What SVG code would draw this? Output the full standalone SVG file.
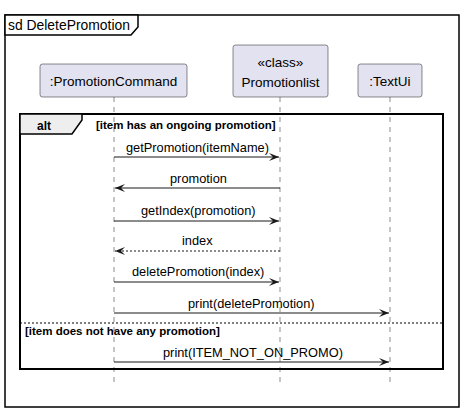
<svg xmlns="http://www.w3.org/2000/svg" width="464" height="411" viewBox="0 0 464 411">
<style>
text{font-family:"Liberation Sans",Arial,sans-serif;fill:#000}
.part{fill:#E2E2F0;stroke:#181818;stroke-width:0.5}
.pt{font-size:13.5px}
.msg{font-size:12.8px}
.life{stroke:#181818;stroke-width:0.5;stroke-dasharray:5,5}
.m{stroke:#181818;stroke-width:1;fill:none}
.guard{font-size:11.5px;font-weight:bold}
</style>
<defs>
<marker id="ah" markerWidth="12" markerHeight="10" viewBox="0 0 12 10" refX="11" refY="5" orient="auto" markerUnits="userSpaceOnUse">
<polygon points="1,1 11,5 1,9 5,5" fill="#181818"/>
</marker>
</defs>
<g id="frame">
<rect x="5" y="15" width="454" height="392" fill="none" stroke="#000" stroke-width="1.5"/>
<polygon points="5,15 138,15 138,27 131,35 5,35" fill="#FFFFFF" stroke="#000" stroke-width="1.5"/>
<text x="8" y="30" font-size="13.9">sd DeletePromotion</text>
</g>
<g id="lifelines">
<line class="life" x1="114" y1="97" x2="114" y2="386"/>
<line class="life" x1="280" y1="97" x2="280" y2="386"/>
<line class="life" x1="390" y1="97" x2="390" y2="386"/>
</g>
<g id="PromotionCommand">
<rect class="part" x="40" y="64" width="147" height="33" rx="2.5"/>
<text class="pt" x="113.5" y="86" text-anchor="middle">:PromotionCommand</text>
</g>
<g id="Promotionlist">
<rect class="part" x="233" y="45" width="95" height="52" rx="2.5"/>
<text class="pt" x="280.5" y="67" text-anchor="middle">«class»</text>
<text class="pt" x="280.5" y="87" text-anchor="middle">Promotionlist</text>
</g>
<g id="TextUi">
<rect class="part" x="358" y="64" width="64" height="33" rx="2.5"/>
<text class="pt" x="390" y="86" text-anchor="middle">:TextUi</text>
</g>
<g id="alt">
<rect x="20" y="114" width="423" height="255" fill="none" stroke="#000" stroke-width="2"/>
<polygon points="20,114 82,114 82,120 72,134 20,134" fill="#EEEEEE" stroke="#000" stroke-width="1.5"/>
<text x="37" y="130" font-size="12" font-weight="bold">alt</text>
<text class="guard" x="96" y="129">[item has an ongoing promotion]</text>
<line x1="20" y1="323" x2="443" y2="323" stroke="#000" stroke-width="1" stroke-dasharray="2,2"/>
<text class="guard" x="25" y="335">[item does not have any promotion]</text>
</g>
<g id="connectors">
<line class="m" x1="114" y1="157" x2="279" y2="157" marker-end="url(#ah)"/>
<text class="msg" x="126" y="152">getPromotion(itemName)</text>
<line class="m" x1="280" y1="188" x2="115" y2="188" marker-end="url(#ah)"/>
<text class="msg" x="170" y="183">promotion</text>
<line class="m" x1="114" y1="221" x2="279" y2="221" marker-end="url(#ah)"/>
<text class="msg" x="141" y="215">getIndex(promotion)</text>
<line class="m" x1="280" y1="251" x2="115" y2="251" stroke-dasharray="2,2" marker-end="url(#ah)"/>
<text class="msg" x="182" y="245">index</text>
<line class="m" x1="114" y1="282" x2="279" y2="282" marker-end="url(#ah)"/>
<text class="msg" x="132" y="276">deletePromotion(index)</text>
<line class="m" x1="114" y1="313" x2="389" y2="313" marker-end="url(#ah)"/>
<text class="msg" x="188" y="308">print(deletePromotion)</text>
<line class="m" x1="114" y1="362" x2="389" y2="362" marker-end="url(#ah)"/>
<text class="msg" x="163" y="357">print(ITEM_NOT_ON_PROMO)</text>
</g>
</svg>
